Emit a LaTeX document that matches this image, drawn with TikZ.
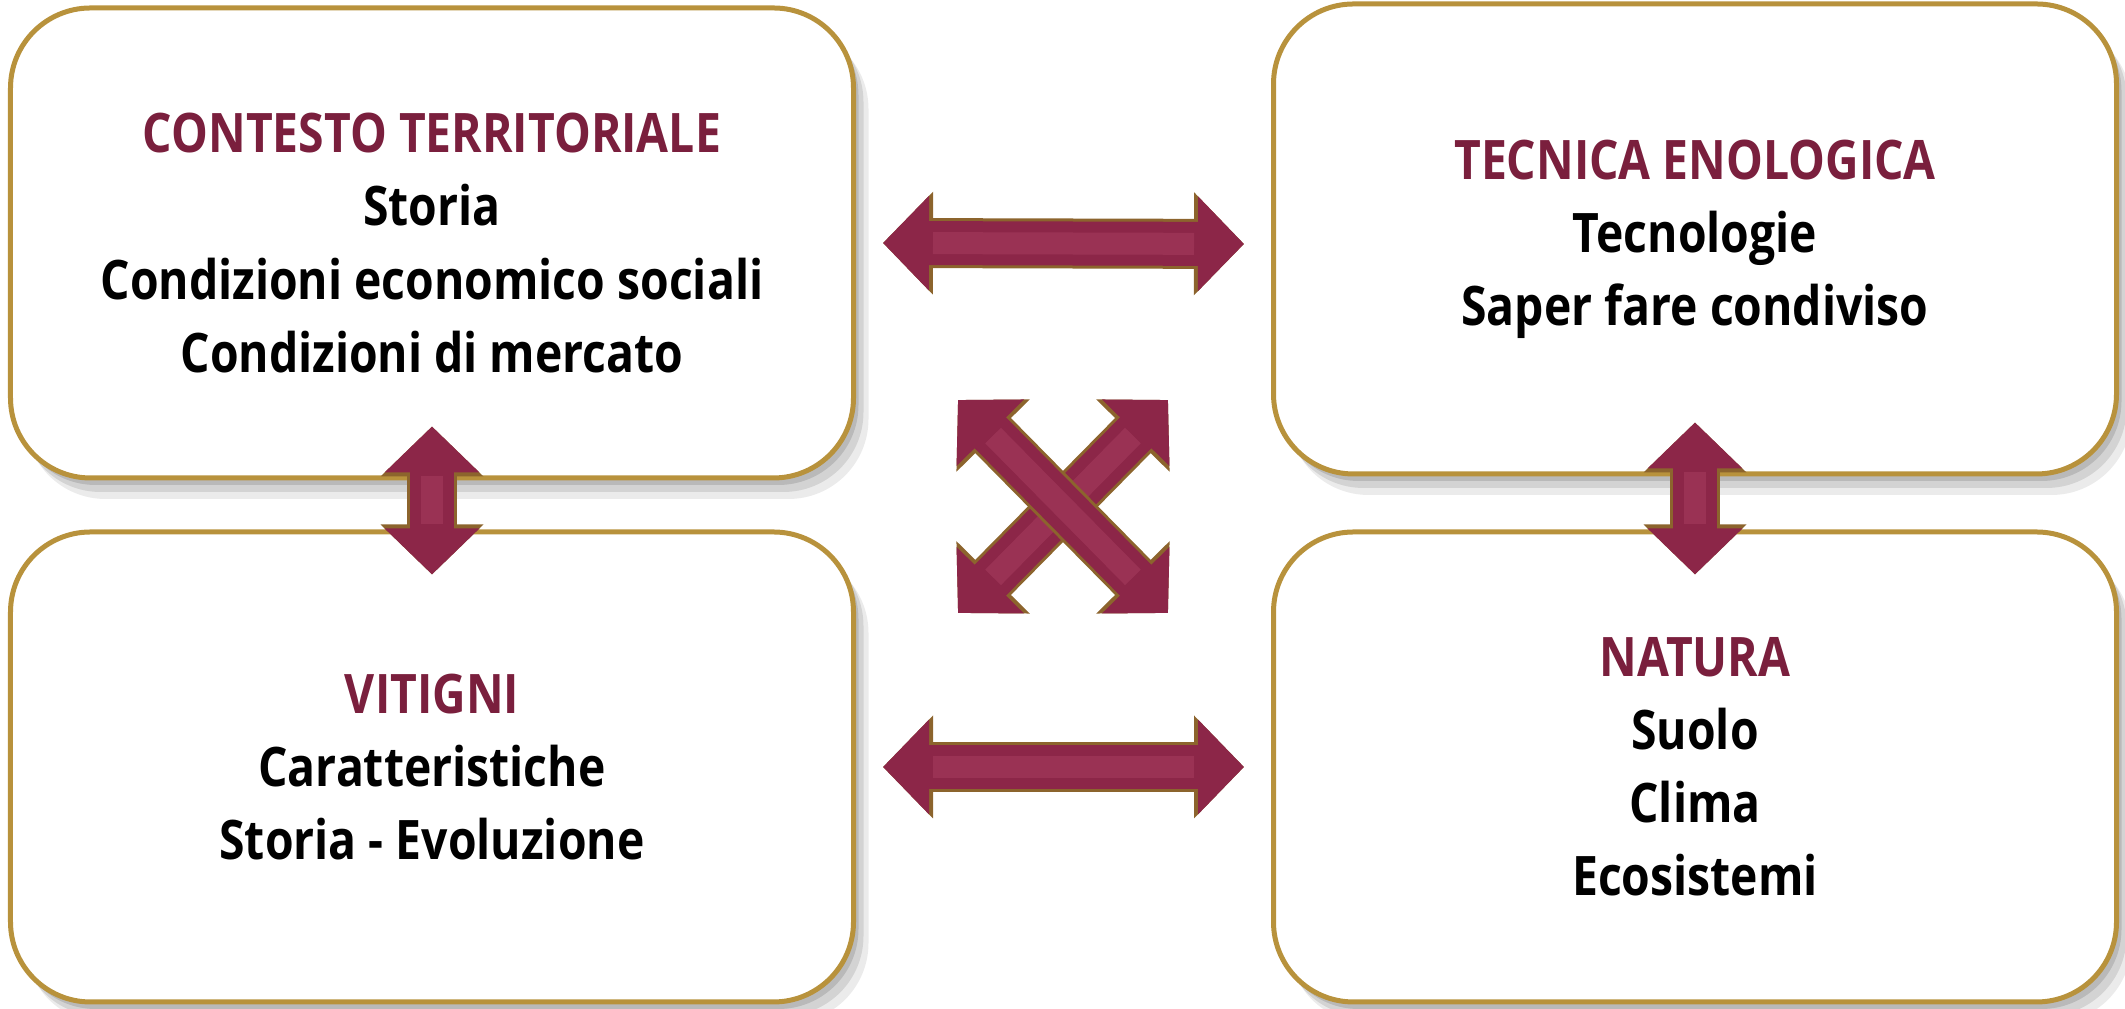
\documentclass[tikz,border=0pt]{standalone}
\usepackage{fontspec}
\setmainfont{Open Sans}[FakeStretch=0.85]
\usetikzlibrary{arrows.meta,calc,shadows}

\definecolor{vino}{RGB}{122,31,61}
\definecolor{vinofill}{RGB}{140,38,72}
\definecolor{vinolight}{RGB}{196,88,122}
\definecolor{oro}{RGB}{184,146,60}
\definecolor{orobruno}{RGB}{140,100,45}

\tikzset{
  box/.style={draw=oro, line width=0.5mm, fill=white, rounded corners=8mm,
    minimum width=84.3mm, minimum height=47mm, align=center,
    font=\bfseries\fontsize{15.5}{20.8}\selectfont,
    drop shadow={shadow xshift=1.5mm, shadow yshift=-2.1mm, opacity=0.08, fill=black},
    drop shadow={shadow xshift=1.0mm, shadow yshift=-1.4mm, opacity=0.10, fill=black},
    drop shadow={shadow xshift=0.5mm, shadow yshift=-0.7mm, opacity=0.12, fill=black}},
  bigarrow/.style={line width=4.4mm, draw=vinofill,
    {Triangle[width=9.2mm,length=4.6mm]}-{Triangle[width=9.2mm,length=4.6mm]},
    preaction={draw=orobruno, line width=5mm,
      {Triangle[width=10mm,length=5mm]}-{Triangle[width=10mm,length=5mm]}},
    postaction={draw=vinolight, line width=2.2mm, opacity=0.25, -,
      shorten <=5mm, shorten >=5mm}}
}

\begin{document}
\begin{tikzpicture}[x=1mm,y=1mm]
  \useasboundingbox (0,0) rectangle (212.5,100.9);
  % the four boxes
  \node[box] (ct) at (43.2,76.6)
    {\textcolor{vino}{CONTESTO TERRITORIALE}\\Storia\\Condizioni economico sociali\\Condizioni di mercato};
  \node[box] (te) at (169.5,77.0)
    {\textcolor{vino}{TECNICA ENOLOGICA}\\Tecnologie\\Saper fare condiviso};
  \node[box] (vi) at (43.2,24.2)
    {\textcolor{vino}{VITIGNI}\\Caratteristiche\\Storia - Evoluzione};
  \node[box] (na) at (169.5,24.2)
    {\textcolor{vino}{NATURA}\\Suolo\\Clima\\Ecosistemi};
  % arrow ends
  \coordinate (ct-e) at ($(ct.east)+(2.7,0)$);
  \coordinate (te-w) at ($(te.west)+(-2.7,-0.5)$);
  \coordinate (vi-e) at ($(vi.east)+(2.7,0)$);
  \coordinate (na-w) at ($(na.west)+(-2.7,0)$);
  \coordinate (ct-s) at ($(ct.south)+(0,5.4)$);
  \coordinate (vi-n) at ($(vi.north)+(0,-4.5)$);
  \coordinate (te-s) at ($(te.south)+(0,5.4)$);
  \coordinate (na-n) at ($(na.north)+(0,-4.5)$);
  \coordinate (x-nw) at (95.8,60.9);
  \coordinate (x-ne) at (116.8,60.9);
  \coordinate (x-sw) at (95.8,39.6);
  \coordinate (x-se) at (116.8,39.6);
  \draw[bigarrow] (ct-e) -- (te-w);
  \draw[bigarrow] (vi-e) -- (na-w);
  \draw[bigarrow] (ct-s) -- (vi-n);
  \draw[bigarrow] (te-s) -- (na-n);
  \draw[bigarrow] (x-sw) -- (x-ne);
  \draw[bigarrow] (x-nw) -- (x-se);
\end{tikzpicture}
\end{document}
